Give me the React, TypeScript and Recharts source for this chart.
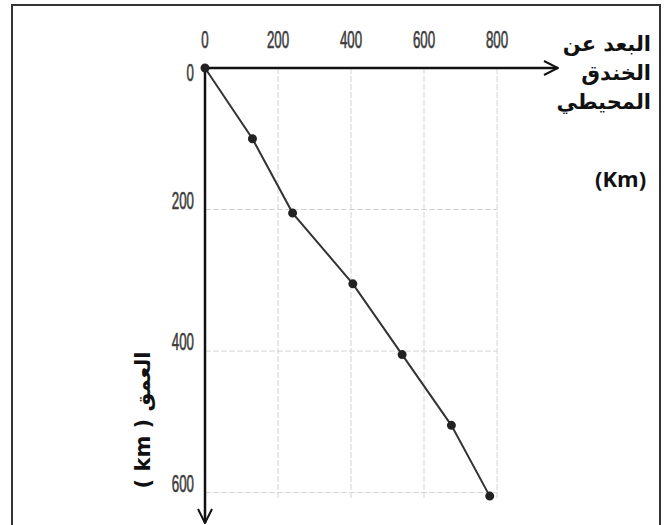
import React from 'react';
import { LineChart, Line, XAxis, YAxis, ReferenceLine } from 'recharts';

// distance from the oceanic trench (km) vs depth (km)
const distances = [0, 130, 240, 405, 540, 675, 780];
const depths = [0, 100, 205, 305, 405, 505, 605];
const xTicks = [0, 200, 400, 600, 800];
const yTicks = [0, 200, 400, 600];
const gridX = [200, 400, 600, 800];
const gridY = [200, 400, 600];

const data = distances.map((d, i) => ({ x: d, y: depths[i] }));

const tickFont = '"Liberation Sans", Arial, sans-serif';

const XTick = (props: any) => {
    const { x, y, payload } = props;
    return (
        <g transform={`translate(${x},${y - 20})`}>
            <text textAnchor="middle" fontFamily={tickFont} fontSize={18} fill="#3d3d3d" stroke="#3d3d3d" strokeWidth={0.5} transform="scale(0.74,1.32)">
                {payload.value}
            </text>
        </g>
    );
};

const YTick = (props: any) => {
    const { x, y, payload } = props;
    const dy = payload.value === 0 ? 5 : -9;
    return (
        <g transform={`translate(${x - 11},${y + dy + 8})`}>
            <text textAnchor="end" fontFamily={tickFont} fontSize={18} fill="#3d3d3d" stroke="#3d3d3d" strokeWidth={0.5} transform="scale(0.74,1.32)">
                {payload.value}
            </text>
        </g>
    );
};

const arabic = '"DejaVu Sans", "Noto Sans", sans-serif';

const App: React.FC = () => {
    return (
        <div style={{ position: 'absolute', left: 0, top: 0, width: 668, height: 525, background: '#fff', overflow: 'hidden' }}>
            <svg width={0} height={0} style={{ position: 'absolute' }}>
                <defs>
                    <marker id="arrow" viewBox="0 0 16 16" refX={15} refY={8} markerWidth={16} markerHeight={16} orient="auto" markerUnits="userSpaceOnUse">
                        <path d="M1,1 L15,8 L1,15" fill="none" stroke="#111" strokeWidth={2} />
                    </marker>
                </defs>
            </svg>
            <div style={{ position: 'absolute', left: 11, top: 4, width: 646, height: 530, border: '2px solid #333' }} />
            <div style={{ position: 'absolute', left: 0, top: 0 }}>
                <LineChart width={668} height={525} data={data} margin={{ top: 28, left: 145, right: 110, bottom: 2 }}>
                    <XAxis
                        type="number"
                        dataKey="x"
                        orientation="top"
                        domain={[0, 967]}
                        ticks={xTicks}
                        interval={0}
                        height={40}
                        tickLine={false}
                        tickSize={0}
                        tickMargin={0}
                        tick={<XTick />}
                        axisLine={{ stroke: '#111', strokeWidth: 2.5, markerEnd: 'url(#arrow)' } as any}
                    />
                    <YAxis
                        type="number"
                        dataKey="y"
                        reversed
                        domain={[0, 643]}
                        ticks={yTicks}
                        interval={0}
                        width={60}
                        tickLine={false}
                        tickSize={0}
                        tickMargin={0}
                        tick={<YTick />}
                        axisLine={{ stroke: '#111', strokeWidth: 2.5, markerEnd: 'url(#arrow)' } as any}
                    />
                    {gridY.map(v => (
                        <ReferenceLine key={'h' + v} segment={[{ x: 0, y: v }, { x: 800, y: v }]} stroke="#d4d4d4" strokeDasharray="6 2" />
                    ))}
                    {gridX.map(v => (
                        <ReferenceLine key={'v' + v} segment={[{ x: v, y: 0 }, { x: v, y: 610 }]} stroke="#d4d4d4" strokeDasharray="6 2" />
                    ))}
                    <Line
                        type="linear"
                        dataKey="y"
                        stroke="#333"
                        strokeWidth={2}
                        dot={{ r: 3.5, fill: '#222', stroke: '#222' }}
                        isAnimationActive={false}
                    />
                </LineChart>
            </div>
            <div style={{ position: 'absolute', right: 17, top: 30, direction: 'rtl', textAlign: 'right', fontFamily: arabic, fontWeight: 'bold', fontSize: 21, lineHeight: '29px', color: '#111' }}>
                <div>البعد عن</div>
                <div>الخندق</div>
                <div>المحيطي</div>
            </div>
            <div style={{ position: 'absolute', left: 595, top: 163, fontFamily: '"Open Sans", "Noto Sans", sans-serif', fontWeight: 'bold', fontSize: 22, color: '#111' }}>
                (Km)
            </div>
            <div style={{ position: 'absolute', left: 143, top: 420, transform: 'translate(-50%,-50%) rotate(-90deg)', whiteSpace: 'nowrap', fontFamily: arabic, fontWeight: 'bold', fontSize: 21, color: '#111', direction: 'ltr' }}>
                ( km ) العمق
            </div>
        </div>
    );
};

export default App;
